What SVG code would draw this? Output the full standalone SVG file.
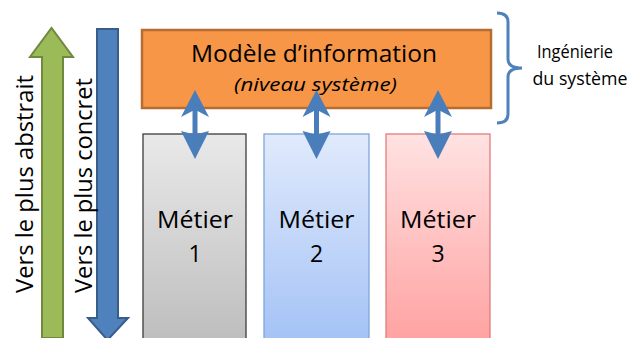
<svg xmlns="http://www.w3.org/2000/svg" width="630" height="338" viewBox="0 0 630 338">
<defs>
<linearGradient id="g1" x1="0" y1="0" x2="0" y2="1"><stop offset="0" stop-color="#e9e9e9"/><stop offset="1" stop-color="#bdbdbd"/></linearGradient>
<linearGradient id="g2" x1="0" y1="0" x2="0" y2="1"><stop offset="0" stop-color="#e0eafc"/><stop offset="1" stop-color="#a4c2f6"/></linearGradient>
<linearGradient id="g3" x1="0" y1="0" x2="0" y2="1"><stop offset="0" stop-color="#ffe2e2"/><stop offset="1" stop-color="#ffa1a1"/></linearGradient>
</defs>
<style>
text{font-family:"Open Sans","Liberation Sans",sans-serif;fill:#000}
.big{font-size:23px}
.conn{fill:#4a7ebb}
</style>
<rect width="630" height="338" fill="#fff"/>
<g id="arrow-abstrait">
<path d="M42,338 L42,57 L30,57 L51.5,28 L73,57 L63,57 L63,338 Z" fill="#9bbb59" stroke="#71893f" stroke-width="2"/>
<text class="big" transform="translate(33,293) rotate(-90)" textLength="218" lengthAdjust="spacingAndGlyphs">Vers le plus abstrait</text>
</g>
<g id="arrow-concret">
<path d="M97,29 L118,29 L118,318 L128,318 L107.5,340 L88,318 L97,318 Z" fill="#4f81bd" stroke="#385d8a" stroke-width="2"/>
<text class="big" transform="translate(92,293) rotate(-90)" textLength="215" lengthAdjust="spacingAndGlyphs">Vers le plus concret</text>
</g>
<g id="metier1">
<rect x="143" y="134" width="103" height="210" fill="url(#g1)" stroke="#3c3c3c" stroke-width="1.3"/>
<text class="big" x="195" y="228" text-anchor="middle" textLength="76" lengthAdjust="spacingAndGlyphs">Métier</text>
<text class="big" x="195" y="262" text-anchor="middle">1</text>
</g>
<g id="metier2">
<rect x="264" y="134" width="105" height="210" fill="url(#g2)" stroke="#7ea6da" stroke-width="1.3"/>
<text class="big" x="316.5" y="228" text-anchor="middle" textLength="76" lengthAdjust="spacingAndGlyphs">Métier</text>
<text class="big" x="316.5" y="262" text-anchor="middle">2</text>
</g>
<g id="metier3">
<rect x="386" y="134" width="104" height="210" fill="url(#g3)" stroke="#e27c7c" stroke-width="1.3"/>
<text class="big" x="438" y="228" text-anchor="middle" textLength="76" lengthAdjust="spacingAndGlyphs">Métier</text>
<text class="big" x="438" y="262" text-anchor="middle">3</text>
</g>
<g id="modele">
<rect x="142" y="30" width="349" height="78" fill="#f79646" stroke="#b66d31" stroke-width="2.5"/>
<text class="big" x="314" y="62" text-anchor="middle" textLength="246" lengthAdjust="spacingAndGlyphs">Modèle d’information</text>
<text x="315.5" y="91" text-anchor="middle" font-size="19" font-style="italic" fill="#1a1a1a" textLength="163" lengthAdjust="spacingAndGlyphs">(niveau système)</text>
</g>
<g id="ingenierie">
<path d="M497,13 Q508,13 508,22 L508,59 Q508,68 522,68 Q508,68 508,77 L508,114 Q508,123 497,123" fill="none" stroke="#4f81bd" stroke-width="3"/>
<text x="575" y="58" text-anchor="middle" font-size="17.5" textLength="76" lengthAdjust="spacingAndGlyphs">Ingénierie</text>
<text x="580" y="85" text-anchor="middle" font-size="17.5" textLength="95" lengthAdjust="spacingAndGlyphs">du système</text>
</g>
<g id="connectors" class="conn">
<path d="M195,90 L209,117 L197.5,111 L197.5,134 L209,131 L195,159 L181,131 L192.5,134 L192.5,111 L181,117 Z"/>
<path d="M316.5,90 L330.5,117 L319,111 L319,134 L330.5,131 L316.5,159 L302.5,131 L314,134 L314,111 L302.5,117 Z"/>
<path d="M438,90 L452,117 L440.5,111 L440.5,134 L452,131 L438,159 L424,131 L435.5,134 L435.5,111 L424,117 Z"/>
</g>
</svg>
